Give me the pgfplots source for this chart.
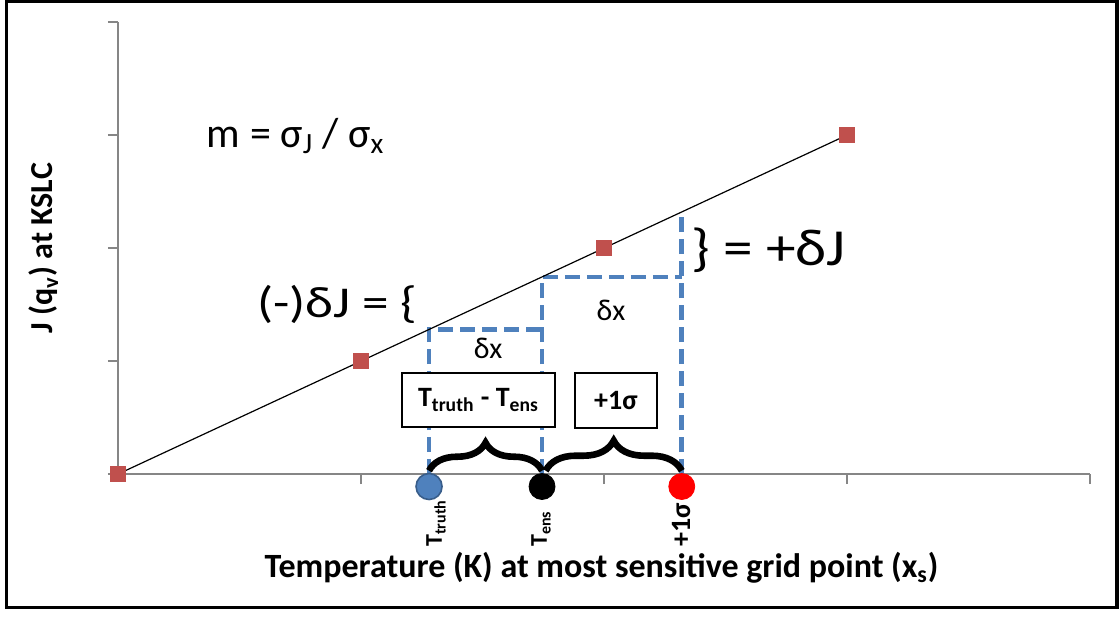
\documentclass[border=0pt]{standalone}
\usepackage{fontspec}
\setmainfont{Carlito}
\usepackage{pgfplots}
\pgfplotsset{compat=1.18}
\usetikzlibrary{decorations.pathreplacing}

\definecolor{axgray}{HTML}{868686}
\definecolor{ptred}{HTML}{C0504D}
\definecolor{dashblue}{HTML}{4F81BD}
\definecolor{dotedge}{HTML}{385D8A}

\begin{document}
\begin{tikzpicture}
\begin{axis}[
  scale only axis, width=486pt, height=226pt,
  xmin=0, xmax=4, ymin=0, ymax=4,
  axis lines*=left,
  axis line style={axgray, line width=0.75pt},
  xtick={1,2,3,4}, ytick={0,1,2,3,4},
  xticklabels={}, yticklabels={},
  tick style={axgray, line width=0.75pt},
  tick align=outside, major tick length=5pt,
  clip=false,
]
% dashed construction lines
\addplot[dashblue, line width=2.3pt, dash pattern=on 7.5pt off 3.5pt] coordinates {(1.28,0) (1.28,1.28) (1.745,1.28)};
\addplot[dashblue, line width=2.3pt, dash pattern=on 7.5pt off 3.5pt] coordinates {(1.745,0) (1.745,1.745) (2.32,1.745)};
\addplot[dashblue, line width=2.3pt, dash pattern=on 7.5pt off 3.5pt] coordinates {(2.32,0) (2.32,2.33)};

% linear fit and points
\addplot[black, line width=0.6pt] coordinates {(0,0) (3,3)};
\addplot[only marks, mark=square*, mark size=3.6pt, color=ptred] coordinates {(0,0) (1,1) (2,2) (3,3)};

% braces
\draw[decorate, decoration={brace, amplitude=14pt}, line width=3.3pt] (1.28,0.03) -- (1.745,0.03);
\draw[decorate, decoration={brace, amplitude=15pt}, line width=3.3pt] (1.76,0.03) -- (2.32,0.03);

% dots on the x axis
\addplot[only marks, mark=*, mark size=6.5pt, mark options={fill=dashblue, draw=dotedge, line width=0.8pt}] coordinates {(1.28,-0.11)};
\addplot[only marks, mark=*, mark size=6.5pt, mark options={fill=black, draw=black}] coordinates {(1.745,-0.11)};
\addplot[only marks, mark=*, mark size=6.5pt, mark options={fill=red, draw=red}] coordinates {(2.32,-0.11)};

% boxes
\node[draw=black, line width=0.75pt, fill=white, minimum width=76.5pt, minimum height=27pt, inner sep=2pt,
  font=\fontsize{14}{16}\selectfont\bfseries] at (1.4835,0.655) {T\textsubscript{truth} - T\textsubscript{ens}};
\node[draw=black, line width=0.75pt, fill=white, minimum width=41pt, minimum height=27.5pt, inner sep=2pt,
  font=\fontsize{14}{16}\selectfont\bfseries] at (2.049,0.65) {+1σ};

% annotations
\node[anchor=base west, font=\fontsize{21}{25}\selectfont] at (0.337,2.894) {m = σ\textsubscript{J} / σ\textsubscript{x}};
\node[anchor=base west, font=\fontsize{22}{26}\selectfont] at (0.543,1.389) {\scalebox{1.21}[1]{(-)δJ = \{}};
\node[anchor=base west, font=\fontsize{26}{30}\selectfont] at (2.33,1.85) {\scalebox{1.14}[1]{\} = +δJ}};
\node[anchor=base, font=\fontsize{15}{17}\selectfont] at (1.523,1.027) {δx};
\node[anchor=base, font=\fontsize{15}{17}\selectfont] at (2.029,1.363) {δx};

% rotated labels under the dots
\node[rotate=90, anchor=base west, inner sep=0pt, font=\fontsize{12}{14}\selectfont\bfseries] at (1.333,-0.646) {T\textsubscript{truth}};
\node[rotate=90, anchor=base west, inner sep=0pt, font=\fontsize{12}{14}\selectfont\bfseries] at (1.765,-0.646) {T\textsubscript{ens}};
\node[rotate=90, anchor=base west, inner sep=0pt, font=\fontsize{14}{16}\selectfont\bfseries] at (2.354,-0.646) {+1σ};

% axis titles
\node[anchor=base, font=\fontsize{17}{20}\selectfont\bfseries] at (1.99,-0.912) {Temperature (K) at most sensitive grid point (x\textsubscript{s})};
\node[rotate=90, anchor=base, font=\fontsize{16}{19}\selectfont\bfseries] at (-0.2675,2.0) {J (q\textsubscript{v}) at KSLC};

% outer frame
\draw[line width=1.6pt] (-0.4588,4.1814) rectangle (4.1111,-1.1814);
\coordinate (bbl) at (-0.4856,-1.2655);
\coordinate (btr) at (4.1193,4.1947);
\end{axis}
\useasboundingbox (bbl) rectangle (btr);
\end{tikzpicture}
\end{document}
